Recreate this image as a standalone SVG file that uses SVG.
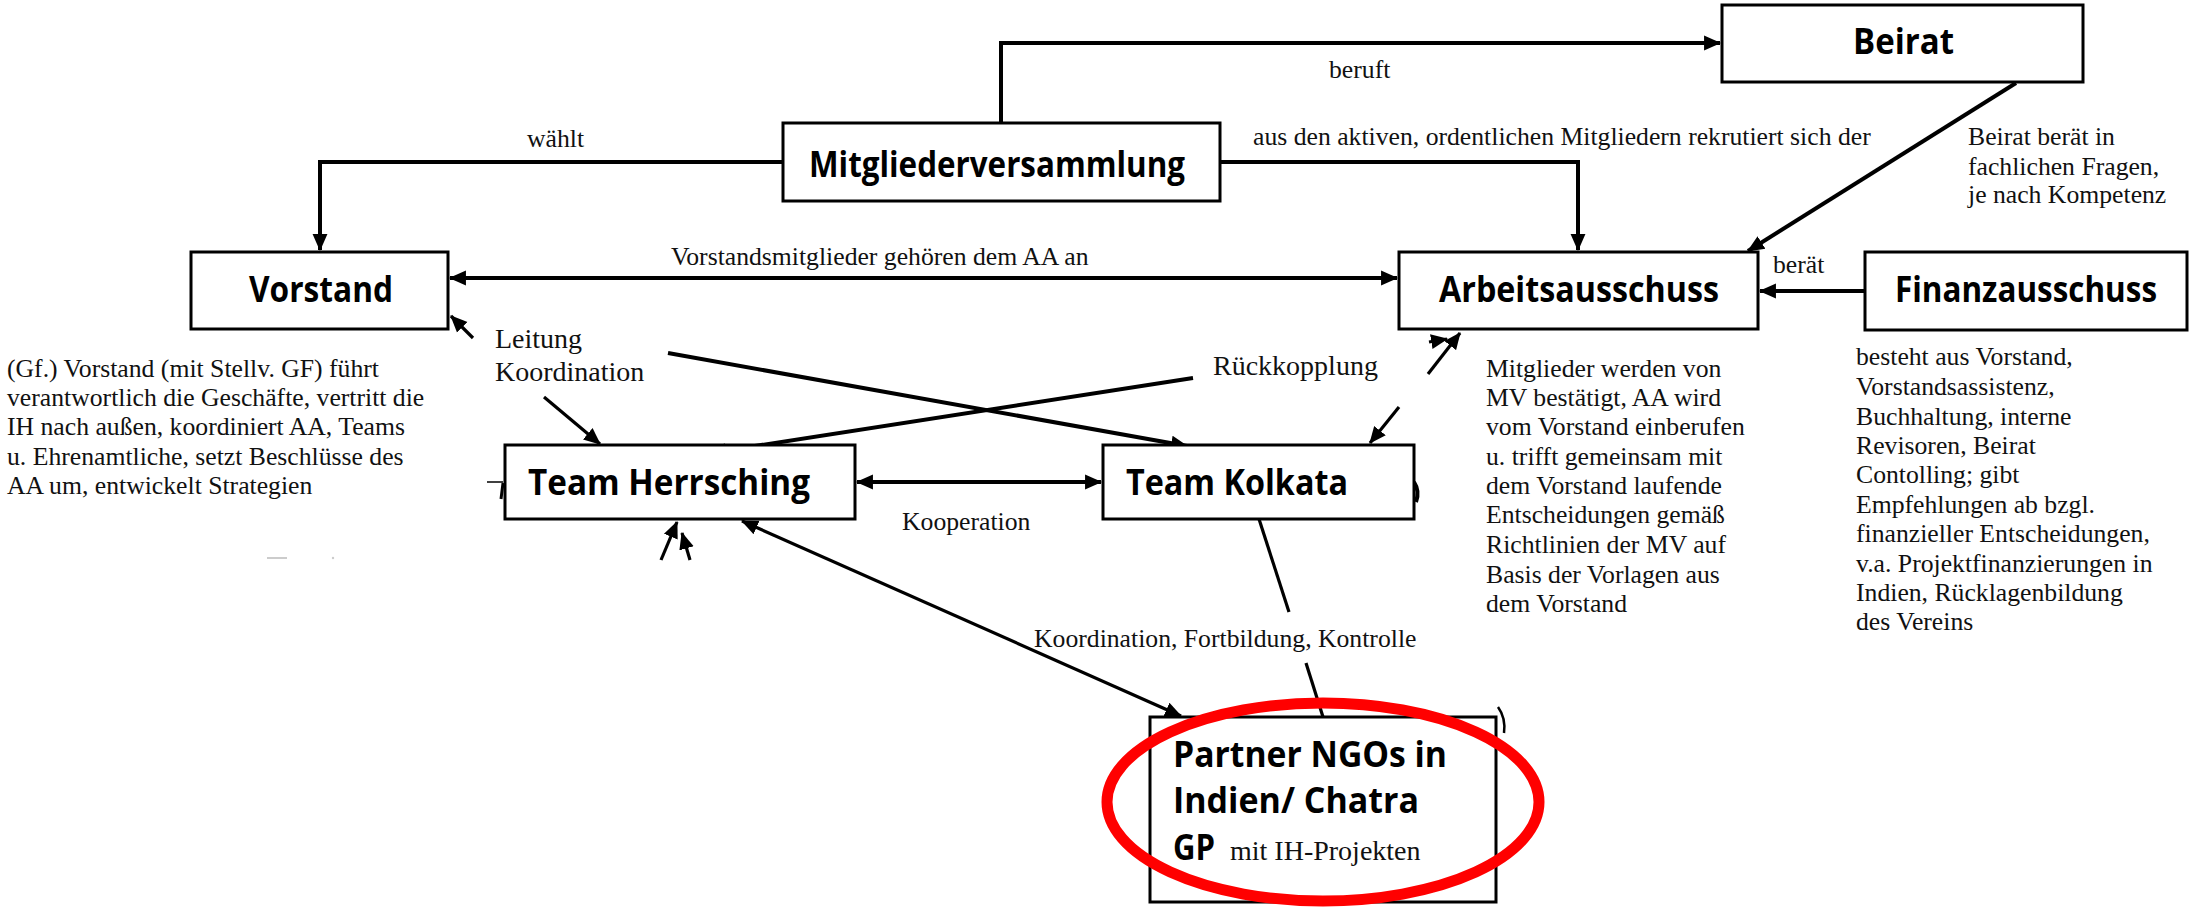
<svg xmlns="http://www.w3.org/2000/svg" width="2190" height="908" viewBox="0 0 2190 908">
<style>
.box{fill:#fff;stroke:#000;stroke-width:3}
.lbl{font-family:'Comic Sans MS','Open Sans','DejaVu Sans',sans-serif;font-weight:bold;font-size:35px;fill:#000}
.t{font-family:'Liberation Serif','Times New Roman',serif;font-size:25.7px;fill:#111}
.t2{font-family:'Liberation Serif','Times New Roman',serif;font-size:28px;fill:#111}
.c{fill:none;stroke:#000;stroke-width:4}
.c2{fill:none;stroke:#000;stroke-width:3.2}
</style>
<defs>
<marker id="ah" viewBox="0 0 16 16" refX="15" refY="8" markerWidth="17" markerHeight="17" markerUnits="userSpaceOnUse" orient="auto-start-reverse">
<path d="M0,1 L16,8 L0,15 z" fill="#000"/>
</marker>
</defs>
<rect width="2190" height="908" fill="#fff"/>

<g id="connectors">
<polyline class="c" points="1001,124 1001,43 1720,43" marker-end="url(#ah)"/>
<polyline class="c" points="782,162 320,162 320,250" marker-end="url(#ah)"/>
<polyline class="c" points="1220,162 1578,162 1578,250" marker-end="url(#ah)"/>
<line class="c" x1="2016" y1="83" x2="1748" y2="251" marker-end="url(#ah)"/>
<line class="c" x1="450" y1="278" x2="1397" y2="278" marker-start="url(#ah)" marker-end="url(#ah)"/>
<line class="c" x1="1865" y1="291" x2="1760" y2="291" marker-end="url(#ah)"/>
<line class="c2" x1="473" y1="338" x2="451" y2="316" marker-end="url(#ah)"/>
<line class="c2" x1="544" y1="397" x2="600" y2="444" marker-end="url(#ah)"/>
<line class="c" x1="668" y1="353" x2="1187" y2="446" marker-end="url(#ah)"/>
<line class="c" x1="1193" y1="378" x2="710" y2="453" marker-end="url(#ah)"/>
<line class="c2" x1="1428" y1="374" x2="1460" y2="333" marker-end="url(#ah)"/>
<line class="c2" x1="1429" y1="342" x2="1447" y2="339" marker-end="url(#ah)"/>
<line class="c2" x1="1399" y1="407" x2="1370" y2="443" marker-end="url(#ah)"/>
<line class="c" x1="857" y1="482" x2="1101" y2="482" marker-start="url(#ah)" marker-end="url(#ah)"/>
<line class="c2" x1="742" y1="521" x2="1181" y2="716" marker-start="url(#ah)" marker-end="url(#ah)"/>
<line class="c2" x1="1259" y1="519" x2="1289" y2="612"/>
<line class="c2" x1="1306" y1="663" x2="1323" y2="717"/>
<line class="c2" x1="661" y1="560" x2="677" y2="522" marker-end="url(#ah)"/>
<line class="c2" x1="690" y1="560" x2="682" y2="533" marker-end="url(#ah)"/>
<path class="c" d="M1414,482 Q1420,491 1416,502"/>
<path d="M487,482 L503,482" stroke="#000" stroke-width="1.5"/>
<path d="M503,483 L501,499" stroke="#000" stroke-width="3"/>
<path d="M1498,707 Q1506,718 1504,733" fill="none" stroke="#000" stroke-width="2.5"/>
<line x1="267" y1="558" x2="287" y2="558" stroke="#ccc" stroke-width="2"/>
<circle cx="333" cy="558" r="1.2" fill="#ccc"/>
</g>

<g id="mitgliederversammlung">
<rect class="box" x="783" y="123" width="437" height="78"/>
<text class="lbl" x="809" y="177" textLength="376" lengthAdjust="spacingAndGlyphs">Mitgliederversammlung</text>
</g>
<g id="beirat">
<rect class="box" x="1722" y="5" width="361" height="77"/>
<text class="lbl" x="1853" y="54" textLength="101" lengthAdjust="spacingAndGlyphs">Beirat</text>
</g>
<g id="vorstand">
<rect class="box" x="191" y="252" width="257" height="77"/>
<text class="lbl" x="249" y="302" textLength="144" lengthAdjust="spacingAndGlyphs">Vorstand</text>
</g>
<g id="arbeitsausschuss">
<rect class="box" x="1399" y="252" width="359" height="77"/>
<text class="lbl" x="1439" y="302" textLength="280" lengthAdjust="spacingAndGlyphs">Arbeitsausschuss</text>
</g>
<g id="finanzausschuss">
<rect class="box" x="1865" y="252" width="322" height="78"/>
<text class="lbl" x="1895" y="302" textLength="262" lengthAdjust="spacingAndGlyphs">Finanzausschuss</text>
</g>
<g id="team-herrsching">
<rect class="box" x="505" y="445" width="350" height="74"/>
<text class="lbl" x="528" y="495" textLength="282" lengthAdjust="spacingAndGlyphs">Team Herrsching</text>
</g>
<g id="team-kolkata">
<rect class="box" x="1103" y="445" width="311" height="74"/>
<text class="lbl" x="1126" y="495" textLength="222" lengthAdjust="spacingAndGlyphs">Team Kolkata</text>
</g>
<g id="partner-ngos">
<rect class="box" x="1150" y="717" width="346" height="185"/>
<text class="lbl" x="1173" y="767" textLength="274" lengthAdjust="spacingAndGlyphs">Partner NGOs in</text>
<text class="lbl" x="1173" y="813" textLength="246" lengthAdjust="spacingAndGlyphs">Indien/ Chatra</text>
<text class="lbl" x="1173" y="860" textLength="42" lengthAdjust="spacingAndGlyphs">GP</text>
<text class="t2" x="1230" y="860">mit IH-Projekten</text>
</g>

<g id="labels">
<text class="t" x="527" y="147">wählt</text>
<text class="t" x="1329" y="78">beruft</text>
<text class="t" x="1253" y="145">aus den aktiven, ordentlichen Mitgliedern rekrutiert sich der</text>
<text class="t" x="1968" y="145">Beirat berät in</text>
<text class="t" x="1968" y="175">fachlichen Fragen,</text>
<text class="t" x="1968" y="203">je nach Kompetenz</text>
<text class="t" x="671" y="265">Vorstandsmitglieder gehören dem AA an</text>
<text class="t" x="1773" y="273">berät</text>
<text class="t2" x="495" y="348">Leitung</text>
<text class="t2" x="495" y="381">Koordination</text>
<text class="t2" x="1213" y="375">Rückkopplung</text>
<text class="t" x="902" y="530">Kooperation</text>
<text class="t" x="1034" y="647">Koordination, Fortbildung, Kontrolle</text>
</g>

<g id="vorstand-desc">
<text class="t" x="7" y="377">(Gf.) Vorstand (mit Stellv. GF) führt</text>
<text class="t" x="7" y="406">verantwortlich die Geschäfte, vertritt die</text>
<text class="t" x="7" y="435">IH nach außen, koordiniert AA, Teams</text>
<text class="t" x="7" y="465">u. Ehrenamtliche, setzt Beschlüsse des</text>
<text class="t" x="7" y="494">AA um, entwickelt Strategien</text>
</g>
<g id="aa-desc">
<text class="t" x="1486" y="377">Mitglieder werden von</text>
<text class="t" x="1486" y="406">MV bestätigt, AA wird</text>
<text class="t" x="1486" y="435">vom Vorstand einberufen</text>
<text class="t" x="1486" y="465">u. trifft gemeinsam mit</text>
<text class="t" x="1486" y="494">dem Vorstand laufende</text>
<text class="t" x="1486" y="523">Entscheidungen gemäß</text>
<text class="t" x="1486" y="553">Richtlinien der MV auf</text>
<text class="t" x="1486" y="583">Basis der Vorlagen aus</text>
<text class="t" x="1486" y="612">dem Vorstand</text>
</g>
<g id="finanz-desc">
<text class="t" x="1856" y="365">besteht aus Vorstand,</text>
<text class="t" x="1856" y="395">Vorstandsassistenz,</text>
<text class="t" x="1856" y="425">Buchhaltung, interne</text>
<text class="t" x="1856" y="454">Revisoren, Beirat</text>
<text class="t" x="1856" y="483">Contolling; gibt</text>
<text class="t" x="1856" y="513">Empfehlungen ab bzgl.</text>
<text class="t" x="1856" y="542">finanzieller Entscheidungen,</text>
<text class="t" x="1856" y="572">v.a. Projektfinanzierungen in</text>
<text class="t" x="1856" y="601">Indien, Rücklagenbildung</text>
<text class="t" x="1856" y="630">des Vereins</text>
</g>

<g id="highlight">
<ellipse cx="1323" cy="802" rx="216" ry="99" fill="none" stroke="#ff0000" stroke-width="11"/>
</g>
</svg>
